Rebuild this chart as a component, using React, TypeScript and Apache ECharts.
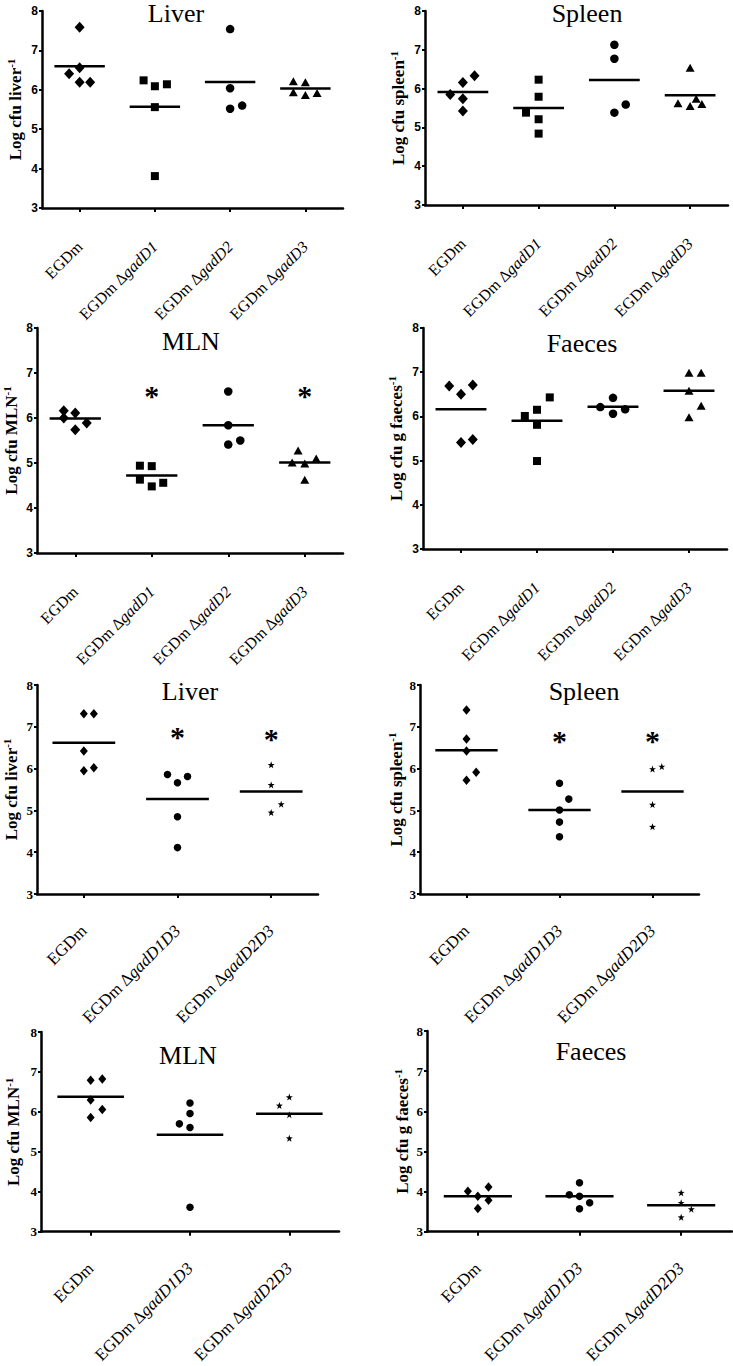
import React, { useEffect, useRef } from "react";
import * as echarts from "echarts";

// ---------------- Categories ----------------
const singleCats = ["EGDm", "EGDm ΔgadD1", "EGDm ΔgadD2", "EGDm ΔgadD3"];
const doubleCats = ["EGDm", "EGDm ΔgadD1D3", "EGDm ΔgadD2D3"];

// ---------------- Panel titles / axis names ----------------
const titles = ["Liver", "Spleen", "MLN", "Faeces", "Liver", "Spleen", "MLN", "Faeces"];
const yNames = ["Log cfu liver", "Log cfu spleen", "Log cfu MLN", "Log cfu g faeces",
  "Log cfu liver", "Log cfu spleen", "Log cfu MLN", "Log cfu g faeces"];
const yMin = 3;
const yMax = 8;
const yStep = 1;

// ---------------- Data (log cfu) ----------------
// Panel 1: Liver, single mutants
const liverSingleValues = [
  [7.59, 6.41, 6.56, 6.19, 6.19],
  [6.24, 6.09, 6.14, 5.56, 3.81],
  [7.54, 6.04, 5.52, 5.6],
  [6.22, 6.19, 5.94, 5.87, 5.92],
];
const liverSingleJitter = [
  [0, -0.14, 0, 0, 0.14],
  [-0.15, 0, 0.16, 0, 0],
  [0, 0, 0, 0.16],
  [-0.16, 0, -0.16, 0, 0.155],
];
const liverSingleMeans = [6.6, 5.57, 6.2, 6.03];
const liverSingleSig: (number | null)[] = [null, null, null, null];

// Panel 2: Spleen, single mutants
const spleenSingleValues = [
  [5.85, 6.16, 6.33, 5.74, 5.42],
  [6.23, 5.79, 5.38, 5.21, 4.84],
  [7.13, 6.77, 5.38, 5.59],
  [6.54, 5.62, 5.55, 5.74, 5.6],
];
const spleenSingleJitter = [
  [-0.167, 0, 0.154, 0, 0],
  [0, 0, -0.167, 0, 0],
  [0, 0, 0, 0.15],
  [0, -0.16, 0, 0.08, 0.155],
];
const spleenSingleMeans = [5.91, 5.5, 6.22, 5.83];
const spleenSingleSig: (number | null)[] = [null, null, null, null];

// Panel 3: MLN, single mutants
const mlnSingleValues = [
  [6.16, 6.11, 6.0, 5.89, 5.74],
  [4.94, 4.93, 4.63, 4.48, 4.56],
  [6.59, 5.84, 5.41, 5.5],
  [5.28, 5.01, 4.99, 5.1, 4.63],
];
const mlnSingleJitter = [
  [-0.15, 0, -0.15, 0.15, 0],
  [-0.155, 0, -0.155, 0, 0.15],
  [0, 0, 0, 0.157],
  [-0.087, -0.165, 0, 0.15, 0],
];
const mlnSingleMeans = [5.99, 4.72, 5.84, 5.01];
const mlnSingleSig: (number | null)[] = [null, 6.64, null, 6.64];

// Panel 4: Faeces, single mutants
const faecesSingleValues = [
  [6.69, 6.5, 6.71, 5.41, 5.48],
  [6.43, 6.15, 6.01, 5.81, 4.99],
  [6.21, 6.42, 6.06, 6.16],
  [6.99, 6.99, 6.58, 6.24, 5.98],
];
const faecesSingleJitter = [
  [-0.155, 0, 0.155, 0, 0.155],
  [0.168, 0, -0.16, 0, 0],
  [-0.167, 0, 0, 0.16],
  [0, 0.16, 0, 0.16, 0],
];
const faecesSingleMeans = [6.16, 5.9, 6.22, 6.58];
const faecesSingleSig: (number | null)[] = [null, null, null, null];

// Panel 5: Liver, double mutants
const liverDoubleValues = [
  [7.31, 7.31, 6.42, 5.95, 6.02],
  [5.86, 5.66, 5.81, 4.85, 4.11],
  [6.09, 5.61, 5.15, 4.95],
];
const liverDoubleJitter = [
  [0, 0.107, 0, 0, 0.107],
  [-0.107, 0, 0.107, 0, 0],
  [0, 0, 0.107, 0],
];
const liverDoubleMeans = [6.62, 5.27, 5.45];
const liverDoubleSig: (number | null)[] = [null, 6.9, 6.86];

// Panel 6: Spleen, double mutants
const spleenDoubleValues = [
  [7.4, 6.71, 6.42, 5.72, 5.91],
  [5.65, 5.27, 5.01, 4.72, 4.37],
  [5.99, 6.05, 5.14, 4.61],
];
const spleenDoubleJitter = [
  [0, 0, 0, 0, 0.104],
  [0, 0.1, 0, 0, 0],
  [0, 0.1, 0, 0],
];
const spleenDoubleMeans = [6.44, 5.01, 5.45];
const spleenDoubleSig: (number | null)[] = [null, 6.82, 6.82];

// Panel 7: MLN, double mutants
const mlnDoubleValues = [
  [6.79, 6.82, 6.3, 6.06, 5.86],
  [6.22, 5.96, 5.7, 5.61, 3.61],
  [6.37, 6.16, 5.93, 5.34],
];
const mlnDoubleJitter = [
  [0, 0.117, 0, 0.117, 0],
  [0, 0, -0.107, 0, 0],
  [0, -0.1, 0, 0],
];
const mlnDoubleMeans = [6.38, 5.43, 5.95];
const mlnDoubleSig: (number | null)[] = [null, null, null];

// Panel 8: Faeces, double mutants
const faecesDoubleValues = [
  [4.01, 4.11, 3.88, 3.78, 3.58],
  [4.22, 3.92, 3.88, 3.72, 3.57],
  [3.97, 3.72, 3.56, 3.36],
];
const faecesDoubleJitter = [
  [-0.098, 0.105, 0, 0.105, 0],
  [0, -0.1, 0, 0.1, 0],
  [0, 0, 0.1, 0],
];
const faecesDoubleMeans = [3.88, 3.88, 3.66];
const faecesDoubleSig: (number | null)[] = [null, null, null];

// ---------------- Layout & styles ----------------
const STAR =
  "path://M0,-10 L2.35,-3.24 L9.51,-3.09 L3.8,1.24 L5.88,8.09 L0,4 L-5.88,8.09 L-3.8,1.24 L-9.51,-3.09 L-2.35,-3.24 Z";
const SERIF = "Liberation Serif";
const SANS = "Liberation Sans";

const singleSymbols = [
  { symbol: "diamond", size: [10, 11] },
  { symbol: "rect", size: 8 },
  { symbol: "circle", size: 8.5 },
  { symbol: "triangle", size: [9, 8] },
];
const doubleSymbols = [
  { symbol: "diamond", size: [8, 9.5] },
  { symbol: "circle", size: 7.5 },
  { symbol: STAR, size: 7 },
];

const grids = [
  { left: 42, top: 11, width: 301, height: 197 },
  { left: 425, top: 11, width: 303, height: 194 },
  { left: 37, top: 328, width: 306, height: 225 },
  { left: 423, top: 328, width: 304, height: 221 },
  { left: 37, top: 685, width: 281, height: 209 },
  { left: 420, top: 685, width: 279, height: 209 },
  { left: 41, top: 1032, width: 298, height: 209 },
  { left: 427, top: 1031, width: 305, height: 209 },
];
const titlePos = [
  [176, 0], [587, 0], [191, 328], [582, 330],
  [190, 678], [584, 678], [188, 1042], [591, 1038],
];
const nameGaps = [17, 17, 16, 17, 16, 14, 18, 15];

const panels = [
  { cats: singleCats, values: liverSingleValues, jitter: liverSingleJitter, means: liverSingleMeans, sig: liverSingleSig },
  { cats: singleCats, values: spleenSingleValues, jitter: spleenSingleJitter, means: spleenSingleMeans, sig: spleenSingleSig },
  { cats: singleCats, values: mlnSingleValues, jitter: mlnSingleJitter, means: mlnSingleMeans, sig: mlnSingleSig },
  { cats: singleCats, values: faecesSingleValues, jitter: faecesSingleJitter, means: faecesSingleMeans, sig: faecesSingleSig },
  { cats: doubleCats, values: liverDoubleValues, jitter: liverDoubleJitter, means: liverDoubleMeans, sig: liverDoubleSig },
  { cats: doubleCats, values: spleenDoubleValues, jitter: spleenDoubleJitter, means: spleenDoubleMeans, sig: spleenDoubleSig },
  { cats: doubleCats, values: mlnDoubleValues, jitter: mlnDoubleJitter, means: mlnDoubleMeans, sig: mlnDoubleSig },
  { cats: doubleCats, values: faecesDoubleValues, jitter: faecesDoubleJitter, means: faecesDoubleMeans, sig: faecesDoubleSig },
];

function catFormatter(v: string) {
  const i = v.indexOf("Δ");
  if (i < 0) return "{n|" + v + "}";
  return "{n|" + v.slice(0, i + 1) + "}{i|" + v.slice(i + 1) + "}";
}

function buildOption() {
  const grid: any[] = [];
  const xAxis: any[] = [];
  const yAxis: any[] = [];
  const series: any[] = [];
  const graphic: any[] = [];

  panels.forEach((p, idx) => {
    const isSingle = p.cats.length === 4;
    const symbols = isSingle ? singleSymbols : doubleSymbols;
    const tickFont = isSingle
      ? { fontFamily: SANS, fontWeight: "bold", fontSize: 12 }
      : { fontFamily: SERIF, fontWeight: "bold", fontSize: 13 };
    const catSize = isSingle ? 16 : 17;
    const catMargin = isSingle ? 36 : 34;
    grid.push({ ...grids[idx], containLabel: false });

    xAxis.push({
      type: "category",
      gridIndex: idx,
      data: p.cats,
      boundaryGap: true,
      position: "bottom",
      axisLine: { show: true, onZero: false, lineStyle: { color: "#000", width: 2.5 } },
      axisTick: { show: true, alignWithLabel: true, length: 4, lineStyle: { color: "#000", width: 2 } },
      splitLine: { show: false },
      axisLabel: {
        rotate: 45,
        interval: 0,
        margin: catMargin,
        color: "#000",
        fontFamily: SERIF,
        fontSize: catSize,
        formatter: catFormatter,
        rich: {
          n: { fontFamily: SERIF, fontSize: catSize, color: "#000" },
          i: { fontFamily: SERIF, fontSize: catSize, fontStyle: "italic", color: "#000" },
        },
      },
    });
    xAxis.push({
      type: "value",
      gridIndex: idx,
      show: false,
      min: -0.5,
      max: p.cats.length - 0.5,
      position: "bottom",
      splitLine: { show: false },
    });

    yAxis.push({
      type: "value",
      gridIndex: idx,
      min: yMin,
      max: yMax,
      interval: yStep,
      axisLine: { show: true, onZero: false, lineStyle: { color: "#000", width: 2.5 } },
      axisTick: { show: true, length: 3, lineStyle: { color: "#000", width: 2 } },
      splitLine: { show: false },
      axisLabel: { color: "#000", margin: 4, ...tickFont },
      name: "{a|" + yNames[idx] + "}{s|-1}",
      nameLocation: "middle",
      nameRotate: 90,
      nameGap: nameGaps[idx],
      nameTextStyle: {
        rich: {
          a: { fontFamily: SERIF, fontWeight: "bold", fontSize: 17, color: "#000", lineHeight: 20 },
          s: { fontFamily: SERIF, fontWeight: "bold", fontSize: 11, color: "#000", lineHeight: 13, verticalAlign: "top" },
        },
      },
    });

    const xi = idx * 2 + 1;
    p.values.forEach((vals, g) => {
      series.push({
        type: "scatter",
        xAxisIndex: xi,
        yAxisIndex: idx,
        silent: true,
        symbol: symbols[g].symbol,
        symbolSize: symbols[g].size,
        itemStyle: { color: "#000", opacity: 1 },
        data: vals.map((v, k) => [g + p.jitter[g][k], v]),
      });
    });

    series.push({
      type: "custom",
      xAxisIndex: xi,
      yAxisIndex: idx,
      silent: true,
      data: p.means.map((m, g) => [g, m]),
      renderItem: (params: any, api: any) => {
        const x = api.value(0);
        const y = api.value(1);
        const a = api.coord([x - 0.335, y]);
        const b = api.coord([x + 0.335, y]);
        return {
          type: "line",
          shape: { x1: a[0], y1: a[1], x2: b[0], y2: b[1] },
          style: { stroke: "#000", lineWidth: 2.5 },
        };
      },
    });

    const sigData = p.sig
      .map((s, g) => (s == null ? null : [g, s]))
      .filter((d) => d !== null);
    if (sigData.length) {
      series.push({
        type: "scatter",
        xAxisIndex: xi,
        yAxisIndex: idx,
        silent: true,
        symbolSize: 1,
        itemStyle: { color: "rgba(0,0,0,0)", opacity: 1 },
        label: {
          show: true,
          position: "inside",
          formatter: "*",
          fontFamily: SERIF,
          fontWeight: "bold",
          fontSize: 30,
          color: "#000",
          opacity: 1,
          offset: [0, 6],
        },
        data: sigData,
      });
    }

    graphic.push({
      type: "text",
      x: titlePos[idx][0],
      y: titlePos[idx][1],
      silent: true,
      style: {
        text: titles[idx],
        fontFamily: SERIF,
        fontSize: 26,
        fill: "#000",
        align: "center",
        textAlign: "center",
        verticalAlign: "top",
        textVerticalAlign: "top",
      },
    });
  });

  return {
    animation: false,
    backgroundColor: "#fff",
    grid,
    xAxis,
    yAxis,
    series,
    graphic,
  };
}

export default function App() {
  const ref = useRef<HTMLDivElement>(null);
  useEffect(() => {
    if (!ref.current) return;
    const chart = echarts.init(ref.current, undefined, { renderer: "svg" });
    chart.setOption(buildOption() as any);
    return () => chart.dispose();
  }, []);
  return (
    <div
      ref={ref}
      style={{ position: "absolute", left: 0, top: 0, width: 733, height: 1366, background: "#fff" }}
    />
  );
}
